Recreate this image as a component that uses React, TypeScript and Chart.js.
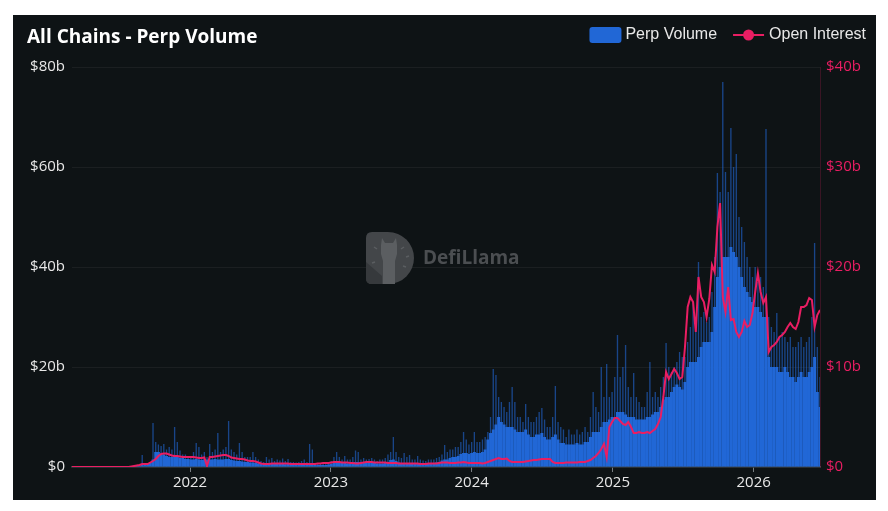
import { useEffect, useRef } from 'react';
import { Chart, registerables } from 'chart.js';

Chart.register(...registerables);

// Weekly samples, first one on 2021-03-01 (values in $ billions)
const START_DAY = Date.UTC(2021, 2, 1) / 86400000;
const STEP_DAYS = 7;
const YEAR_TICKS = [2022, 2023, 2024, 2025, 2026];

// Typical daily perp volume for each week
const perpVolume = [
  0, 0, 0, 0, 0, 0, 0, 0, 0, 0,
  0, 0, 0, 0, 0, 0, 0, 0, 0, 0,
  0, 0, 0, 0.1, 0.2, 0.3, 0.5, 0.5, 0.6, 0.8,
  1.5, 3.0, 3.0, 2.5, 2.5, 2.2, 2.0, 2.0, 2.2, 2.0,
  1.8, 1.8, 1.6, 1.6, 1.5, 1.5, 1.6, 1.5, 1.4, 1.5,
  1.5, 1.5, 1.5, 1.6, 1.5, 1.5, 1.5, 1.6, 1.6, 1.4,
  1.3, 1.2, 1.2, 1.1, 1.0, 1.0, 0.9, 0.9, 0.8, 0.7,
  0.6, 0.6, 0.6, 0.6, 0.6, 0.6, 0.6, 0.6, 0.6, 0.55,
  0.6, 0.5, 0.5, 0.5, 0.5, 0.5, 0.5, 0.6, 0.8, 0.6,
  0.4, 0.4, 0.4, 0.4, 0.4, 0.5, 0.6, 0.8, 1.0, 0.8,
  0.8, 0.8, 0.7, 0.7, 0.8, 1.0, 1.0, 0.8, 0.8, 0.8,
  0.8, 0.8, 0.8, 0.7, 0.7, 0.7, 0.8, 1.0, 1.4, 1.5,
  1.2, 0.9, 0.8, 0.8, 0.8, 0.8, 0.7, 0.7, 0.8, 0.7,
  0.7, 0.7, 0.8, 0.8, 0.8, 0.9, 1.0, 1.3, 1.5, 1.5,
  1.8, 2.0, 2.0, 2.2, 2.6, 2.8, 2.8, 2.6, 2.8, 3.0,
  2.8, 2.8, 3.0, 3.5, 5.5, 6.8, 7.5, 8.5, 10.0, 9.0,
  8.5, 8.0, 8.0, 8.0, 7.5, 7.0, 7.0, 7.0, 7.5, 6.5,
  6.0, 6.0, 6.5, 6.5, 6.8, 6.0, 5.5, 5.5, 6.0, 6.5,
  5.5, 4.8, 4.8, 4.5, 4.5, 4.5, 4.5, 4.8, 4.5, 4.5,
  5.0, 5.0, 6.0, 7.0, 7.0, 7.0, 8.0, 9.0, 9.0, 9.5,
  10, 10, 11, 11, 11, 10.5, 10, 10, 10, 9.5,
  9.5, 9.5, 9.5, 10, 10, 10.5, 11, 11, 12, 13.5,
  14, 14, 15, 16, 16.5, 16, 15.5, 17, 20, 21,
  21, 21, 22, 24, 25, 25, 25, 27, 32, 38,
  40, 42, 42, 42, 44, 43, 42, 40, 38, 36,
  35, 34, 33, 32, 32, 31, 30, 30, 22, 20,
  20, 20, 19, 19, 20, 19, 18, 18, 17, 18,
  19, 18, 18, 19, 20, 22, 15, 12,
];

// Highest single day in each week
const perpVolumePeak = [
  null, null, null, null, null, null, null, null, null, null,
  null, null, null, null, null, null, null, null, null, null,
  null, null, null, null, null, null, 2.4, null, null, null,
  8.8, 5.0, 4.5, 4.2, 4.6, 3.5, 4.0, 3.5, 8.0, 5.0,
  3.3, 2.5, 2.5, 2.2, 2.0, 3.0, 4.8, 4.0, 2.5, 3.0,
  2.0, 4.6, 3.0, 3.5, 6.8, 3.0, 3.5, 4.0, 9.2, 3.5,
  3.0, 2.5, 4.8, 3.0, 2.0, 2.0, 2.0, 3.0, 2.0, 1.5,
  1.2, 1.0, 2.0, 1.5, 1.8, 1.2, 1.5, 1.3, 1.7, 1.2,
  1.6, 1.0, 1.0, 0.9, 1.0, 1.2, 1.5, 1.0, 4.6, 3.5,
  0.8, 0.8, 0.7, 0.8, 0.8, 1.0, 1.2, 2.0, 3.0, 2.0,
  1.5, 2.2, 1.5, 1.5, 2.0, 3.3, 3.0, 1.5, 1.8, 1.5,
  1.6, 1.8, 1.5, 1.2, 1.5, 1.5, 1.8, 2.5, 3.0, 6.0,
  3.0, 2.0, 1.8, 2.8, 2.0, 2.4, 1.5, 1.5, 2.2, 1.5,
  1.3, 1.2, 1.5, 1.5, 1.5, 1.8, 2.0, 2.5, 4.4, 3.0,
  3.5, 3.5, 4.0, 4.0, 5.0, 7.0, 5.5, 4.5, 5.0, 7.0,
  5.0, 5.0, 5.5, 6.0, 7.0, 10, 19.6, 18.4, 14, 13,
  12, 11, 13, 16, 13, 10, 10, 9, 12.6, 10,
  9, 9, 10, 11, 11.8, 9.5, 8, 8, 10, 16.2,
  9, 8, 7.5, 6, 7.5, 6.5, 6.5, 7.5, 6.5, 7,
  8, 7, 10, 15, 12, 11, 20, 14, 20.6, 14,
  15, 18, 26.4, 18, 20, 24.4, 16, 14, 18.8, 14,
  13, 12, 12, 15, 21, 14, 15, 14, 16, 18,
  24.8, 20, 19, 20, 21, 23, 22, 22, 25, 28,
  33, 30, 41, 30, 31, 29, 30, 35, 42, 58.8,
  55, 77, 59, 55, 67.8, 60, 62.6, 50, 48, 45,
  42, 40, 38, 40, 37, 38, 36, 67.6, 30, 28,
  27, 30.8, 26, 27, 26, 25, 26, 24, 24, 25,
  26, 24, 25, 26, 30, 44.8, 24, 18,
];

// Open interest at each weekly sample
const openInterest = [
  0, 0, 0, 0, 0, 0, 0, 0, 0, 0,
  0, 0, 0, 0, 0, 0, 0, 0, 0, 0,
  0, 0, 0.05, 0.1, 0.15, 0.2, 0.3, 0.3, 0.3, 0.45,
  0.6, 0.8, 1.1, 1.3, 1.35, 1.35, 1.25, 1.15, 1.1, 1.1,
  1.05, 1.0, 1.0, 1.0, 1.0, 1.0, 0.95, 0.9, 0.9, 0.95,
  0.1, 1.0, 1.0, 1.05, 1.1, 1.15, 1.2, 1.2, 1.1, 0.95,
  0.9, 0.85, 0.8, 0.8, 0.75, 0.65, 0.6, 0.6, 0.55, 0.45,
  0.35, 0.3, 0.3, 0.3, 0.35, 0.35, 0.35, 0.35, 0.35, 0.35,
  0.35, 0.3, 0.3, 0.3, 0.3, 0.3, 0.3, 0.3, 0.3, 0.3,
  0.3, 0.35, 0.35, 0.4, 0.4, 0.4, 0.45, 0.5, 0.5, 0.5,
  0.45, 0.45, 0.45, 0.4, 0.4, 0.35, 0.35, 0.4, 0.45, 0.5,
  0.5, 0.5, 0.45, 0.45, 0.45, 0.45, 0.45, 0.4, 0.4, 0.4,
  0.4, 0.35, 0.35, 0.35, 0.35, 0.35, 0.35, 0.35, 0.35, 0.3,
  0.3, 0.3, 0.35, 0.35, 0.35, 0.35, 0.4, 0.45, 0.45, 0.45,
  0.4, 0.4, 0.4, 0.45, 0.45, 0.5, 0.45, 0.4, 0.4, 0.4,
  0.4, 0.4, 0.35, 0.4, 0.5, 0.6, 0.7, 0.8, 0.9, 0.8,
  0.8, 0.85, 0.6, 0.5, 0.5, 0.5, 0.5, 0.5, 0.55, 0.6,
  0.65, 0.7, 0.7, 0.75, 0.8, 0.8, 0.8, 0.8, 0.5, 0.4,
  0.4, 0.4, 0.4, 0.45, 0.45, 0.45, 0.45, 0.45, 0.5, 0.5,
  0.5, 0.6, 0.7, 0.9, 1.1, 1.4, 1.8, 2.3, 1.0, 4.0,
  4.5, 4.9, 4.9, 4.6, 4.3, 4.2, 4.5, 4.0, 3.4, 3.4,
  3.5, 3.4, 3.4, 3.5, 3.4, 3.6, 3.8, 4.3, 5.0, 7.0,
  9.5, 8.8, 9.3, 9.8, 9.4, 8.8, 9.0, 12.0, 16.0, 17.0,
  16.5, 13.5, 19.0, 17.0, 16.5, 15.0, 16.8, 20.2, 19.5, 24.0,
  26.4, 17.0, 15.5, 18.0, 14.7, 14.8, 13.5, 13.0, 13.5, 14.6,
  14.0, 14.2, 15.4, 17.5, 19.4, 17.5, 16.4, 17.0, 11.5, 12.0,
  12.2, 12.5, 13.0, 13.2, 13.5, 14.0, 14.4, 14.0, 13.8, 14.5,
  16.0, 16.0, 16.2, 16.9, 16.7, 14.0, 15.2, 15.7,
];

const CARD_W = 863;
const CARD_H = 485;
const BLUE = '#2167d6';
const PINK = '#e91e63';
const TEXT = '#e8e8e8';

const dayOf = (i: number) => START_DAY + i * STEP_DAYS;
const toPoints = (arr: (number | null)[]) => arr.map((v, i) => ({ x: dayOf(i), y: v }));

const fmtB = (v: number) => (v === 0 ? '$0' : `$${v}b`);

// Faint brand mark in the middle of the plot
const watermark = {
  id: 'watermark',
  beforeDatasetsDraw(chart: Chart) {
    const ctx = chart.ctx;
    ctx.save();
    const x0 = 353;
    const y0 = 217;
    const h = 52;
    const cx = 375;
    const cy = y0 + h / 2;
    ctx.beginPath();
    ctx.moveTo(x0 + 6, y0);
    ctx.lineTo(cx, y0);
    ctx.arc(cx, cy, h / 2, -Math.PI / 2, Math.PI / 2);
    ctx.lineTo(x0 + 6, y0 + h);
    ctx.quadraticCurveTo(x0, y0 + h, x0, y0 + h - 6);
    ctx.lineTo(x0, y0 + 6);
    ctx.quadraticCurveTo(x0, y0, x0 + 6, y0);
    ctx.closePath();
    ctx.fillStyle = '#434649';
    ctx.fill();
    ctx.save();
    ctx.clip();
    ctx.fillStyle = '#36393c';
    ctx.beginPath();
    ctx.moveTo(x0, y0 + 30);
    ctx.lineTo(369, y0 + 44);
    ctx.lineTo(369, y0 + h);
    ctx.lineTo(x0, y0 + h);
    ctx.closePath();
    ctx.fill();
    ctx.restore();
    // llama head and neck
    ctx.fillStyle = '#5b5e61';
    ctx.beginPath();
    ctx.moveTo(368, 230);
    ctx.lineTo(369, 223);
    ctx.lineTo(372, 228);
    ctx.lineTo(380, 228);
    ctx.lineTo(383, 223);
    ctx.lineTo(384, 230);
    ctx.lineTo(384, 239);
    ctx.lineTo(382, 246);
    ctx.lineTo(382, 269);
    ctx.lineTo(370, 269);
    ctx.lineTo(370, 246);
    ctx.lineTo(368, 239);
    ctx.closePath();
    ctx.fill();
    ctx.strokeStyle = '#5b5e61';
    ctx.lineWidth = 1.5;
    const ticks = [
      [361, 232, 364, 234], [359, 248, 362, 247], [391, 232, 388, 234],
      [396, 241, 393, 242], [393, 252, 390, 251],
    ];
    ticks.forEach(([a, b, c, d]) => {
      ctx.beginPath();
      ctx.moveTo(a, b);
      ctx.lineTo(c, d);
      ctx.stroke();
    });
    ctx.fillStyle = '#4b4e51';
    ctx.font = 'bold 19px "Open Sans"';
    ctx.textBaseline = 'middle';
    ctx.textAlign = 'left';
    ctx.fillText('DefiLlama', 410, 244);
    ctx.restore();
  },
};

// Title and legend across the top of the card
const header = {
  id: 'header',
  afterDraw(chart: Chart) {
    const ctx = chart.ctx;
    ctx.save();
    ctx.fillStyle = '#ffffff';
    ctx.font = 'bold 19px "Open Sans"';
    ctx.textBaseline = 'alphabetic';
    ctx.textAlign = 'left';
    ctx.fillText('All Chains - Perp Volume', 14, 28);

    ctx.font = '16px "Liberation Sans"';
    ctx.textBaseline = 'middle';
    const cy = 20;
    const right = 853;
    const oiLabel = 'Open Interest';
    const volLabel = 'Perp Volume';
    const oiX = right - ctx.measureText(oiLabel).width;
    const lineEnd = oiX - 5;
    const lineStart = lineEnd - 31;
    const volEnd = lineStart - 16;
    const volX = volEnd - ctx.measureText(volLabel).width;
    const boxEnd = volX - 4;
    const boxStart = boxEnd - 32;

    ctx.fillStyle = TEXT;
    ctx.fillText(oiLabel, oiX, cy);
    ctx.fillText(volLabel, volX, cy);

    ctx.strokeStyle = PINK;
    ctx.lineWidth = 2;
    ctx.beginPath();
    ctx.moveTo(lineStart, cy);
    ctx.lineTo(lineEnd, cy);
    ctx.stroke();
    ctx.fillStyle = PINK;
    ctx.beginPath();
    ctx.arc((lineStart + lineEnd) / 2, cy, 5.5, 0, Math.PI * 2);
    ctx.fill();

    ctx.fillStyle = BLUE;
    ctx.beginPath();
    ctx.roundRect(boxStart, cy - 8, 32, 16, 3);
    ctx.fill();
    ctx.restore();
  },
};

export default function App() {
  const canvasRef = useRef<HTMLCanvasElement | null>(null);

  useEffect(() => {
    if (!canvasRef.current) return;
    const tickFont = { family: '"Open Sans"', size: 15 };
    const chart = new Chart(canvasRef.current, {
      type: 'bar',
      data: {
        datasets: [
          {
            type: 'line',
            label: 'Open Interest',
            data: toPoints(openInterest),
            yAxisID: 'y1',
            borderColor: PINK,
            borderWidth: 2,
            pointRadius: 0,
            tension: 0,
            order: 0,
          },
          {
            type: 'bar',
            label: 'Perp Volume',
            data: toPoints(perpVolume),
            yAxisID: 'y',
            backgroundColor: BLUE,
            barPercentage: 1.1,
            categoryPercentage: 1,
            grouped: false,
            order: 1,
          },
          {
            type: 'bar',
            label: 'Perp Volume (daily high)',
            data: toPoints(perpVolumePeak),
            yAxisID: 'y',
            backgroundColor: 'rgba(33,103,214,0.6)',
            barPercentage: 0.5,
            categoryPercentage: 1,
            grouped: false,
            order: 2,
          },
        ],
      } as any,
      options: {
        animation: false,
        responsive: false,
        events: [],
        layout: { padding: { top: 52, left: 0, right: 0, bottom: 0 } },
        plugins: {
          legend: { display: false },
          title: { display: false },
          tooltip: { enabled: false },
        },
        scales: {
          x: {
            type: 'linear',
            offset: false,
            min: dayOf(0),
            max: dayOf(perpVolume.length - 1),
            afterBuildTicks: (scale: any) => {
              scale.ticks = YEAR_TICKS.map((y) => ({ value: Date.UTC(y, 0, 1) / 86400000 }));
            },
            afterFit: (scale: any) => {
              scale.height = 33;
            },
            ticks: {
              autoSkip: false,
              maxRotation: 0,
              color: TEXT,
              font: tickFont,
              padding: 2,
              callback: (v: any) => String(new Date(Number(v) * 86400000).getUTCFullYear()),
            },
            grid: { offset: false, drawOnChartArea: false, tickLength: 5, color: 'rgba(190,196,202,0.6)' },
            border: { display: true, color: '#3a4349', width: 1.5 },
          },
          y: {
            position: 'left',
            min: 0,
            max: 80,
            afterFit: (scale: any) => {
              scale.width = 59;
            },
            ticks: { stepSize: 20, color: TEXT, font: tickFont, padding: 7, callback: (v: any) => fmtB(Number(v)) },
            grid: { color: 'rgba(255,255,255,0.055)', drawTicks: false },
            border: { display: false },
          },
          y1: {
            position: 'right',
            min: 0,
            max: 40,
            afterFit: (scale: any) => {
              scale.width = CARD_W - 807;
            },
            ticks: { stepSize: 10, color: PINK, font: tickFont, padding: 6, callback: (v: any) => fmtB(Number(v)) },
            grid: { display: false, drawTicks: false },
            border: { display: true, color: 'rgba(233,30,99,0.2)', dash: [2, 3] },
          },
        },
      } as any,
      plugins: [watermark, header],
    });
    return () => chart.destroy();
  }, []);

  return (
    <div style={{ paddingTop: 7, paddingLeft: 5 }}>
      <div style={{ width: CARD_W, height: CARD_H, background: '#0e1315' }}>
        <canvas ref={canvasRef} width={CARD_W} height={CARD_H} style={{ display: 'block' }} />
      </div>
    </div>
  );
}
